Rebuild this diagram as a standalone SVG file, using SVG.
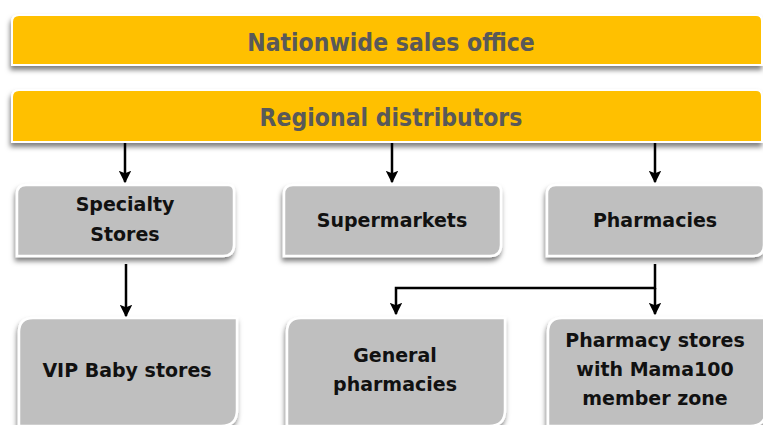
<svg xmlns="http://www.w3.org/2000/svg" width="763" height="425" viewBox="0 0 763 425">
  <style>
    .bar { fill: #FFC000; stroke: #ffffff; stroke-width: 2; filter: url(#shadow); }
    .box { fill: #BFBFBF; stroke: #ffffff; stroke-width: 2.5; filter: url(#shadow); }
    .barText { font-family: "DejaVu Sans Condensed", "DejaVu Sans", sans-serif; font-weight: bold; font-size: 24.5px; fill: #595959; text-anchor: middle; }
    .boxText { font-family: "DejaVu Sans", sans-serif; font-weight: bold; font-size: 19px; fill: #111111; text-anchor: middle; }
    .conn { fill: none; stroke: #000000; stroke-width: 2.5; }
  </style>
  <defs>
    <filter id="shadow" x="-10%" y="-20%" width="120%" height="160%">
      <feDropShadow dx="-1" dy="4" stdDeviation="2.5" flood-color="#000000" flood-opacity="0.5"/>
    </filter>
    <marker id="arrow" viewBox="0 0 10 10" refX="9" refY="5" markerWidth="5" markerHeight="5" orient="auto" markerUnits="strokeWidth">
      <path d="M0,0 L10,5 L0,10 L2,5 Z" fill="#000000"/>
    </marker>
  </defs>
  <rect width="763" height="425" fill="#ffffff"/>

  <g id="nationwide">
    <path class="bar" d="M19,15 H756 Q762,15 762,21 V65 H12 V22 Q12,15 19,15 Z"/>
    <text class="barText" x="391" y="51">Nationwide sales office</text>
  </g>

  <g id="regional">
    <path class="bar" d="M19,90 H756 Q762,90 762,96 V142 H12 V97 Q12,90 19,90 Z"/>
    <text class="barText" x="391" y="126">Regional distributors</text>
  </g>

  <g id="specialty">
    <path class="box" d="M26,185 H228 Q234,185 234,191 V245 Q234,256 223,256 H17 V194 Q17,185 26,185 Z"/>
    <text class="boxText" x="125" y="211">Specialty</text>
    <text class="boxText" x="125" y="241">Stores</text>
  </g>

  <g id="supermarkets">
    <path class="box" d="M293,185 H495 Q501,185 501,191 V245 Q501,256 490,256 H284 V194 Q284,185 293,185 Z"/>
    <text class="boxText" x="392" y="227">Supermarkets</text>
  </g>

  <g id="pharmacies">
    <path class="box" d="M556,185 H758 Q764,185 764,191 V245 Q764,256 753,256 H547 V194 Q547,185 556,185 Z"/>
    <text class="boxText" x="655" y="227">Pharmacies</text>
  </g>

  <g id="vip">
    <path class="box" d="M33,318 H237 V410 Q237,426 221,426 H19 V332 Q19,318 33,318 Z"/>
    <text class="boxText" x="127" y="377">VIP Baby stores</text>
  </g>

  <g id="general">
    <path class="box" d="M301,318 H505 V410 Q505,426 489,426 H287 V332 Q287,318 301,318 Z"/>
    <text class="boxText" x="395" y="362">General</text>
    <text class="boxText" x="395" y="391">pharmacies</text>
  </g>

  <g id="mama100">
    <path class="box" d="M562,318 H766 V410 Q766,426 750,426 H548 V332 Q548,318 562,318 Z"/>
    <text class="boxText" x="655" y="347">Pharmacy stores</text>
    <text class="boxText" x="655" y="376">with Mama100</text>
    <text class="boxText" x="655" y="405">member zone</text>
  </g>

  <g id="connectors">
    <line class="conn" x1="125" y1="143" x2="125" y2="182" marker-end="url(#arrow)"/>
    <line class="conn" x1="392" y1="143" x2="392" y2="182" marker-end="url(#arrow)"/>
    <line class="conn" x1="655" y1="143" x2="655" y2="182" marker-end="url(#arrow)"/>
    <line class="conn" x1="126" y1="264" x2="126" y2="316" marker-end="url(#arrow)"/>
    <polyline class="conn" points="655,264 655,288 396,288 396,314" marker-end="url(#arrow)"/>
    <line class="conn" x1="655" y1="288" x2="655" y2="314" marker-end="url(#arrow)"/>
  </g>
</svg>
